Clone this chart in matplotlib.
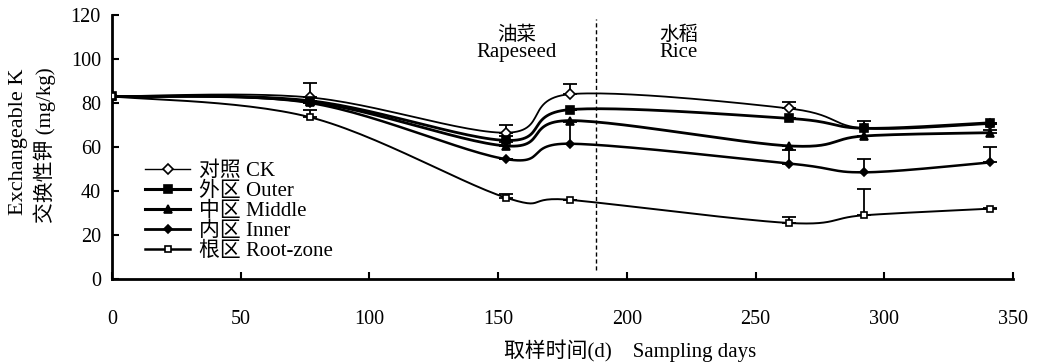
import numpy as np
import matplotlib
matplotlib.use("Agg")
import matplotlib.pyplot as plt

plt.rcParams['font.family'] = ['Liberation Serif', 'Noto Sans CJK SC']
plt.rcParams['axes.unicode_minus'] = False

# sampling days
days = [0, 77, 153, 178, 263, 292, 341]

# exchangeable K (mg/kg)
ck = [83, 82.5, 66.5, 84, 77.5, 68.5, 70.5]
outer = [83, 81, 63, 77, 73, 68.5, 71]
middle = [83, 80.5, 60.5, 72, 60.5, 65, 66.5]
inner = [83, 80, 54.5, 61.5, 52.5, 48.5, 53]
root = [83, 73.5, 37, 36, 25.5, 29, 32]

# upper error bars
ck_err = [0, 6.5, 3.5, 4.5, 3, 0, 0]
outer_err = [0, 0, 2, 0, 0, 3.5, 0]
middle_err = [0, 0, 2, 0, 0, 0, 1]
inner_err = [0, 0, 0, 10, 6, 6, 7]
root_err = [0, 3.5, 1.5, 0, 2.5, 12, 0.5]

labels = ['对照 CK', '外区 Outer', '中区 Middle', '内区 Inner', '根区 Root-zone']


def smooth(xs, ys, n=30):
    # excel-like smoothed line (bezier through the points)
    p = np.column_stack([xs, ys]).astype(float)
    ext = np.vstack([p[0], p, p[-1]])
    out = []
    t = np.linspace(0, 1, n)[:, None]
    for i in range(len(p) - 1):
        p0 = ext[i + 1]
        p3 = ext[i + 2]
        c1 = p0 + (ext[i + 2] - ext[i]) / 6
        c2 = p3 - (ext[i + 3] - ext[i + 1]) / 6
        seg = ((1 - t) ** 3) * p0 + 3 * ((1 - t) ** 2) * t * c1 + 3 * (1 - t) * t ** 2 * c2 + t ** 3 * p3
        out.append(seg)
    out = np.vstack(out)
    return out[:, 0], out[:, 1]


fig = plt.figure(figsize=(10.37, 3.63), dpi=100)
ax = fig.add_axes([0.108, 0.231, 0.869, 0.728])

series = [
    (ck, ck_err, 'D', 'white', 5, 1.3, 1.0),
    (outer, outer_err, 's', 'black', 5.5, 2.0, 2.2),
    (middle, middle_err, '^', 'black', 5.5, 2.0, 2.2),
    (inner, inner_err, 'D', 'black', 4, 1.8, 2.0),
    (root, root_err, 's', 'white', 4.5, 1.4, 1.8),
]

handles = []
for (vals, err, mk, fc, ms, lw, lw_leg), lab in zip(series, labels):
    sx, sy = smooth(days, vals)
    ax.plot(sx, sy, color='black', lw=lw, zorder=2)
    e = np.array(err, dtype=float)
    ax.errorbar(days, vals, yerr=[np.zeros_like(e), e], fmt='none', ecolor='black',
                elinewidth=1.3, capsize=5, capthick=1.3, zorder=3)
    ax.plot(days, vals, ls='none', marker=mk, ms=ms, mfc=fc, mec='black', mew=1.2, zorder=4)
    h, = ax.plot([], [], color='black', lw=lw_leg, marker=mk, ms=ms, mfc=fc, mec='black', mew=1.2)
    handles.append(h)

ax.plot([188, 188], [4, 118], color='black', lw=1, ls=(0, (3, 2)))

ax.text(157, 111, '油菜', ha='center', va='center', fontsize=14)
ax.text(157, 103, 'Rapeseed', ha='center', va='center', fontsize=15)
ax.text(220, 111, '水稻', ha='center', va='center', fontsize=14)
ax.text(220, 103, 'Rice', ha='center', va='center', fontsize=15)

leg = ax.legend(handles, labels, loc='upper left', bbox_to_anchor=(0.02, 0.50), frameon=False,
                fontsize=15, handlelength=2.2, labelspacing=0.02, handletextpad=0.4, borderpad=0.2)

ax.set_xlim(0, 350)
ax.set_ylim(0, 120)
ax.set_xticks(np.arange(0, 351, 50))
ax.set_yticks(np.arange(0, 121, 20))
ax.spines['top'].set_visible(False)
ax.spines['right'].set_visible(False)
ax.spines['left'].set_linewidth(2)
ax.spines['bottom'].set_linewidth(2)
ax.tick_params(axis='both', direction='in', length=5, width=1.5, labelsize=14.5)
ax.tick_params(axis='x', pad=22)
ax.tick_params(axis='y', pad=8)

fig.text(0.0175, 0.61, 'Exchangeable K', rotation=90, ha='center', va='center', fontsize=16)
fig.text(0.043, 0.60, '交换性钾 (mg/kg)', rotation=90, ha='center', va='center', fontsize=15)
fig.text(0.608, 0.035, '取样时间(d)    Sampling days', ha='center', va='center', fontsize=15)

fig.savefig('out.png', dpi=100)
